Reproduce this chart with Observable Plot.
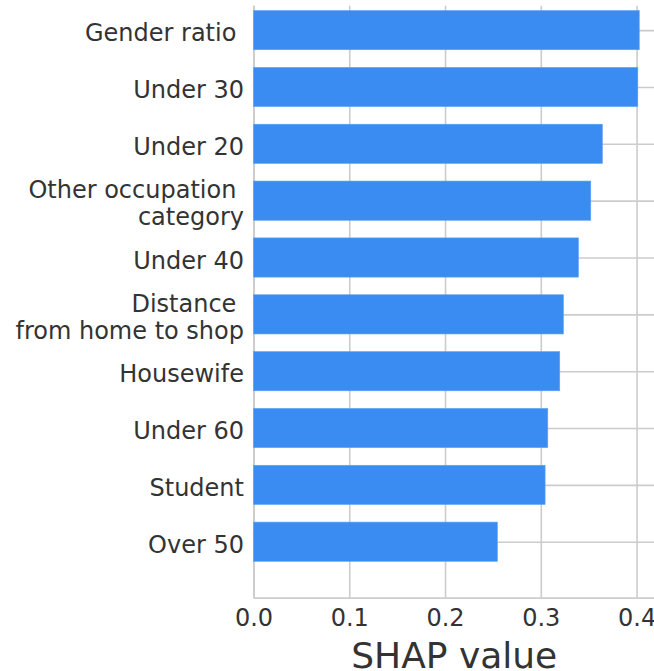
<!DOCTYPE html>
<html>
<head>
<meta charset="utf-8">
<script src="https://cdn.jsdelivr.net/npm/d3@7"></script>
<script src="https://cdn.jsdelivr.net/npm/@observablehq/plot@0.6"></script>
<style>
  html, body { margin: 0; padding: 0; background: #fff; }
  #chart svg { display: block; }
</style>
</head>
<body>
<div id="chart"></div>
<script>
// Data (top to bottom as shown)
const features = [
  "Gender ratio\u00a0",
  "Under 30",
  "Under 20",
  "Other occupation\u00a0\ncategory",
  "Under 40",
  "Distance\u00a0\nfrom home to shop",
  "Housewife",
  "Under 60",
  "Student",
  "Over 50"
];
const shapValues = [0.4028, 0.4013, 0.3643, 0.3522, 0.3393, 0.3236, 0.3198, 0.3073, 0.3045, 0.2547];
const xTicks = [0.0, 0.1, 0.2, 0.3, 0.4];
const xLabel = "SHAP value";

const n = features.length;
const rows = features.map((f, i) => ({feature: f, value: shapValues[i], pos: n - 1 - i}));
const half = 0.345;

const textColor = "#333333";
const gridColor = "#cccccc";
const barColor = "#3a8cf2";

const chart = Plot.plot({
  width: 654,
  height: 671,
  marginLeft: 253.5,
  marginRight: 0,
  marginTop: 5.7,
  marginBottom: 73.3,
  style: {fontFamily: "DejaVu Sans", color: textColor, background: "#fff", overflow: "hidden"},
  x: {domain: [0, 0.4182]},
  y: {domain: [-0.985, 9.43], axis: null},
  marks: [
    Plot.ruleX(xTicks, {stroke: gridColor, strokeWidth: 1.6}),
    Plot.ruleY(rows, {y: "pos", stroke: gridColor, strokeWidth: 1.6}),
    Plot.ruleX([0], {stroke: gridColor, strokeWidth: 1.8}),
    Plot.ruleY([-0.985], {stroke: gridColor, strokeWidth: 1.8}),
    Plot.rectX(rows, {
      x1: 0, x2: "value",
      y1: d => d.pos - half, y2: d => d.pos + half,
      fill: barColor, stroke: "#5fa2f5", strokeWidth: 0.6
    }),
    Plot.text(rows, {
      x: 0, y: "pos", text: "feature",
      textAnchor: "end", lineAnchor: "middle", lineHeight: 1.11,
      dx: -10, dy: 2, fontSize: 24, fill: textColor
    }),
    Plot.axisX({
      ticks: xTicks, tickFormat: d => d.toFixed(1),
      tickSize: 0, tickPadding: 11, fontSize: 24, label: null, fill: textColor
    }),
    Plot.text([xLabel], {
      frameAnchor: "bottom", dy: 58, lineAnchor: "middle",
      fontSize: 36, fill: textColor
    })
  ]
});
document.getElementById("chart").appendChild(chart);
</script>
</body>
</html>
